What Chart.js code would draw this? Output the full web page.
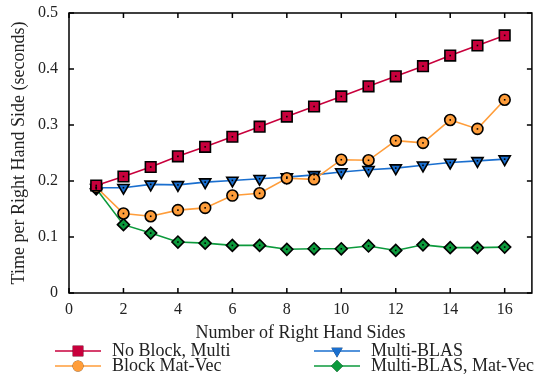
<!DOCTYPE html>
<html>
<head>
<meta charset="utf-8">
<script src="https://cdn.jsdelivr.net/npm/chart.js@4/dist/chart.umd.min.js"></script>
<style>
  body { margin: 0; background: #fff; }
  #wrap { width: 541px; height: 376px; }
</style>
</head>
<body>
<div id="wrap"><canvas id="myChart" width="541" height="376"></canvas></div>
<script>
// number of right hand sides
var rhs = [1, 2, 3, 4, 5, 6, 7, 8, 9, 10, 11, 12, 13, 14, 15, 16];
// time per right hand side, seconds
var noBlockMulti = [0.192, 0.208, 0.225, 0.244, 0.261, 0.279, 0.297, 0.315, 0.333, 0.351, 0.369, 0.387, 0.405, 0.424, 0.442, 0.460];
var blockMatVec = [0.189, 0.142, 0.137, 0.148, 0.152, 0.174, 0.178, 0.205, 0.203, 0.238, 0.237, 0.272, 0.268, 0.309, 0.293, 0.345];
var multiBlas = [0.188, 0.188, 0.194, 0.193, 0.198, 0.201, 0.204, 0.207, 0.211, 0.216, 0.220, 0.223, 0.228, 0.233, 0.236, 0.239];
var multiBlasMatVec = [0.186, 0.122, 0.107, 0.091, 0.089, 0.085, 0.085, 0.078, 0.079, 0.079, 0.084, 0.076, 0.086, 0.081, 0.081, 0.082];

var font = "'Liberation Serif', 'DejaVu Serif', serif";

function pts(ys) {
    return rhs.map(function (x, i) { return { x: x, y: ys[i] }; });
}

function series(label, ys, color, style, radius, rot) {
    return {
        label: label,
        data: pts(ys),
        borderColor: color,
        backgroundColor: color,
        borderWidth: 1.6,
        pointStyle: style,
        pointRadius: radius,
        pointRotation: rot || 0,
        pointBorderColor: '#000',
        pointBorderWidth: 1.6,
        pointBackgroundColor: color,
        tension: 0
    };
}

// little black dot in the middle of each marker
var centerDots = {
    id: 'centerDots',
    afterDatasetsDraw: function (chart) {
        var ctx = chart.ctx;
        ctx.save();
        ctx.fillStyle = '#000';
        chart.data.datasets.forEach(function (ds, i) {
            chart.getDatasetMeta(i).data.forEach(function (p) {
                ctx.fillRect(p.x - 0.8, p.y - 0.8, 1.6, 1.6);
            });
        });
        ctx.restore();
    }
};

// frame with inward ticks on all four sides
var frame = {
    id: 'frame',
    afterDraw: function (chart) {
        var ctx = chart.ctx, a = chart.chartArea;
        var xs = chart.scales.x, ys = chart.scales.y;
        var len = 5;
        ctx.save();
        ctx.strokeStyle = '#000';
        ctx.lineWidth = 1.5;
        ctx.beginPath();
        xs.ticks.forEach(function (t) {
            var px = xs.getPixelForValue(t.value);
            ctx.moveTo(px, a.bottom); ctx.lineTo(px, a.bottom - len);
            ctx.moveTo(px, a.top); ctx.lineTo(px, a.top + len);
        });
        ys.ticks.forEach(function (t) {
            var py = ys.getPixelForValue(t.value);
            ctx.moveTo(a.left, py); ctx.lineTo(a.left + len, py);
            ctx.moveTo(a.right, py); ctx.lineTo(a.right - len, py);
        });
        ctx.stroke();
        ctx.strokeRect(a.left, a.top, a.right - a.left, a.bottom - a.top);
        ctx.restore();
    }
};

// two column legend under the axis title
var legendBox = {
    id: 'legendBox',
    afterDraw: function (chart) {
        var ctx = chart.ctx;
        var slots = [[55, 351], [55, 366], [314, 351], [314, 366]];
        ctx.save();
        ctx.font = '18px ' + font;
        ctx.textBaseline = 'middle';
        chart.data.datasets.forEach(function (ds, k) {
            var x0 = slots[k][0], y0 = slots[k][1];
            ctx.strokeStyle = ds.borderColor;
            ctx.lineWidth = 1.6;
            ctx.beginPath();
            ctx.moveTo(x0, y0); ctx.lineTo(x0 + 46, y0);
            ctx.stroke();
            Chart.helpers.drawPoint(ctx, {
                pointStyle: ds.pointStyle,
                radius: ds.pointRadius,
                rotation: ds.pointRotation,
                borderWidth: 0
            }, x0 + 23, y0);
            ctx.fillStyle = ds.borderColor;
            ctx.fill();
            ctx.fillStyle = '#222';
            ctx.fillText(ds.label, x0 + 57, y0);
        });
        ctx.restore();
    }
};

new Chart('myChart', {
    type: 'line',
    data: {
        datasets: [
            series('No Block, Multi', noBlockMulti, '#c8003c', 'rect', 7.5),
            series('Block Mat-Vec', blockMatVec, '#ff9d3a', 'circle', 5.5),
            series('Multi-BLAS', multiBlas, '#1a6fcf', 'triangle', 6.5, 180),
            series('Multi-BLAS, Mat-Vec', multiBlasMatVec, '#0c9a3c', 'rectRot', 6)
        ]
    },
    options: {
        responsive: false,
        animation: false,
        layout: { padding: { top: 13, right: -2, left: 0, bottom: 0 } },
        plugins: {
            legend: { display: false },
            tooltip: { enabled: false }
        },
        scales: {
            x: {
                type: 'linear',
                min: 0,
                max: 17,
                grid: { display: false, drawTicks: false },
                border: { display: false },
                ticks: {
                    stepSize: 2,
                    includeBounds: false,
                    padding: 7,
                    color: '#222',
                    font: { family: font, size: 16 }
                },
                title: {
                    display: true,
                    text: 'Number of Right Hand Sides',
                    color: '#222',
                    font: { family: font, size: 18 },
                    padding: { top: 0, bottom: 32 }
                },
                afterFit: function (s) {
                    s.height = 83;
                    s.paddingLeft = 0;
                    s.paddingRight = 0;
                }
            },
            y: {
                min: 0,
                max: 0.5,
                grid: { display: false, drawTicks: false },
                border: { display: false },
                ticks: {
                    stepSize: 0.1,
                    padding: 11,
                    color: '#222',
                    font: { family: font, size: 16 },
                    callback: function (v) { return v === 0 ? '0' : v.toFixed(1); }
                },
                title: {
                    display: true,
                    text: 'Time per Right Hand Side (seconds)',
                    color: '#222',
                    font: { family: font, size: 18 },
                    padding: { top: 8, bottom: 0 }
                },
                afterFit: function (s) {
                    s.width = 69;
                    s.paddingTop = 0;
                    s.paddingBottom = 0;
                }
            }
        }
    },
    plugins: [centerDots, frame, legendBox]
});
</script>
</body>
</html>
